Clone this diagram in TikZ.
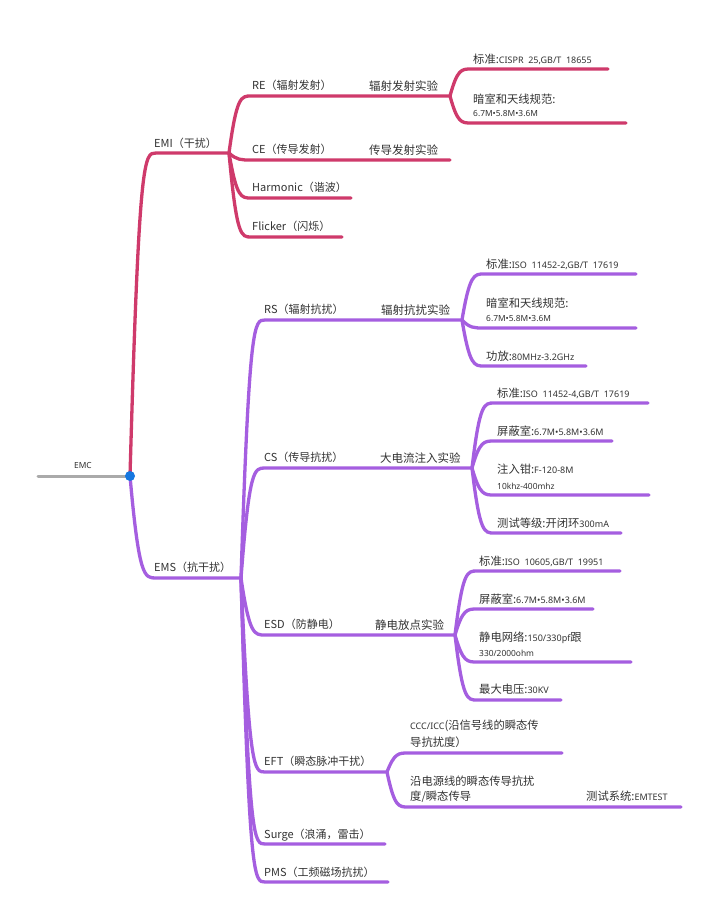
\documentclass[tikz,border=0pt]{standalone}
\usepackage{fontspec}
\setmainfont{Noto Sans CJK SC}
\newfontfamily\latf{Noto Sans}
\usetikzlibrary{calc}
\definecolor{emired}{HTML}{CF3A6B}
\definecolor{emspurple}{HTML}{A55EE0}
\definecolor{rootgray}{HTML}{AAAAAA}
\definecolor{dotblue}{HTML}{1677E0}
\definecolor{txt}{HTML}{333333}
\newcommand{\lsm}[1]{{\latf\fontsize{9}{10}\selectfont #1}}
\tikzset{
  emi/.style={draw=emired, line width=3.3pt, line cap=round},
  ems/.style={draw=emspurple, line width=3.3pt, line cap=round},
  br/.style={to path={let \p1=(\tikztostart), \p2=(\tikztotarget) in
     .. controls ({\x1+0.35*(\x2-\x1)},\y2) and ({\x1+0.55*(\x2-\x1)},\y2) .. (\tikztotarget)}},
  lab/.style={anchor=base west, inner sep=0pt, text=txt, font=\fontsize{11}{13}\selectfont},
  exp/.style={anchor=base west, inner sep=0pt, text=txt, font=\fontsize{11.5}{13}\selectfont},
  leaf/.style={anchor=base west, inner sep=0pt, text=txt, font=\fontsize{11.3}{13}\selectfont},
  small/.style={anchor=base west, inner sep=0pt, text=txt, font=\latf\fontsize{8.4}{10}\selectfont},
}
\begin{document}
\begin{tikzpicture}[x=1pt,y=-1pt]
\useasboundingbox[fill=white] (0,0) rectangle (720,922);
% ---------- coordinates ----------
\coordinate (emcL) at (38,476);
\coordinate (emc) at (130,476);
\coordinate (emiA) at (156,153);  \coordinate (emiH) at (229,153);
\coordinate (reA) at (251,96);    \coordinate (reH) at (450,96);
\coordinate (ceA) at (251,160);   \coordinate (ceE) at (450,160);
\coordinate (harA) at (251,198);  \coordinate (harE) at (351,198);
\coordinate (flA) at (251,237);   \coordinate (flE) at (342,237);
\coordinate (r1A) at (471,69);    \coordinate (r1E) at (608,69);
\coordinate (r2A) at (471,123);   \coordinate (r2E) at (626,123);
\coordinate (emsA) at (156,578);  \coordinate (emsH) at (241,578);
\coordinate (rsA) at (265,320);   \coordinate (rsH) at (462,320);
\coordinate (csA) at (265,468);   \coordinate (csH) at (472,468);
\coordinate (esdA) at (265,635);  \coordinate (esdH) at (455,635);
\coordinate (eftA) at (265,772);  \coordinate (eftH) at (387,772);
\coordinate (surA) at (265,844);  \coordinate (surE) at (385,844);
\coordinate (pmsA) at (265,882);  \coordinate (pmsE) at (388,882);
\coordinate (s1A) at (484,274);   \coordinate (s1E) at (636,274);
\coordinate (s2A) at (484,328);   \coordinate (s2E) at (636,328);
\coordinate (s3A) at (484,366);   \coordinate (s3E) at (586,366);
\coordinate (c1A) at (494,403);   \coordinate (c1E) at (648,403);
\coordinate (c2A) at (494,441);   \coordinate (c2E) at (612,441);
\coordinate (c3A) at (494,495);   \coordinate (c3E) at (649,495);
\coordinate (c4A) at (494,533);   \coordinate (c4E) at (621,533);
\coordinate (d1A) at (477,571);   \coordinate (d1E) at (620,571);
\coordinate (d2A) at (477,609);   \coordinate (d2E) at (593,609);
\coordinate (d3A) at (477,662);   \coordinate (d3E) at (631,662);
\coordinate (d4A) at (477,700);   \coordinate (d4E) at (561,700);
\coordinate (f1A) at (408,753);   \coordinate (f1E) at (562,753);
\coordinate (f2A) at (408,807);   \coordinate (f2E) at (681,807);
% ---------- connectors ----------
\draw[draw=rootgray, line width=3pt, line cap=round] (emcL) -- (emc);
% EMI
\draw[emi] (emc) to[br] (emiA) -- (emiH);
\draw[emi] (emiH) to[br] (reA) -- (reH);
\draw[emi] (emiH) to[br] (ceA) -- (ceE);
\draw[emi] (emiH) to[br] (harA) -- (harE);
\draw[emi] (emiH) to[br] (flA) -- (flE);
\draw[emi] (reH) to[br] (r1A) -- (r1E);
\draw[emi] (reH) to[br] (r2A) -- (r2E);
% EMS
\draw[ems] (emc) to[br] (emsA) -- (emsH);
\draw[ems] (emsH) to[br] (rsA) -- (rsH);
\draw[ems] (emsH) to[br] (csA) -- (csH);
\draw[ems] (emsH) to[br] (esdA) -- (esdH);
\draw[ems] (emsH) to[br] (eftA) -- (eftH);
\draw[ems] (emsH) to[br] (surA) -- (surE);
\draw[ems] (emsH) to[br] (pmsA) -- (pmsE);
\draw[ems] (rsH) to[br] (s1A) -- (s1E);
\draw[ems] (rsH) to[br] (s2A) -- (s2E);
\draw[ems] (rsH) to[br] (s3A) -- (s3E);
\draw[ems] (csH) to[br] (c1A) -- (c1E);
\draw[ems] (csH) to[br] (c2A) -- (c2E);
\draw[ems] (csH) to[br] (c3A) -- (c3E);
\draw[ems] (csH) to[br] (c4A) -- (c4E);
\draw[ems] (esdH) to[br] (d1A) -- (d1E);
\draw[ems] (esdH) to[br] (d2A) -- (d2E);
\draw[ems] (esdH) to[br] (d3A) -- (d3E);
\draw[ems] (esdH) to[br] (d4A) -- (d4E);
\draw[ems] (eftH) to[br] (f1A) -- (f1E);
\draw[ems] (eftH) to[br] (f2A) -- (f2E);
\fill[dotblue] (emc) circle (5pt);
% ---------- labels ----------
\node[small, anchor=base] (tEMC) at (83,468) {EMC};
\node[lab] (tEMI) at (154,147) {EMI（干扰）};
\node[lab] (tRE) at (252,89) {RE（辐射发射）};
\node[exp] (tREx) at (369,90) {辐射发射实验};
\node[lab] (tCE) at (252,153) {CE（传导发射）};
\node[exp] (tCEx) at (369,154) {传导发射实验};
\node[lab] (tHar) at (252,191) {Harmonic（谐波）};
\node[lab] (tFl) at (252,230) {Flicker（闪烁）};
\node[leaf] (tR1) at (473,63) {标准:\lsm{CISPR\ \ 25,GB/T\ \ 18655}};
\node[leaf] (tR2) at (473,103) {暗室和天线规范:};
\node[small] (tR2b) at (473,116) {6.7M•5.8M•3.6M};
\node[lab] (tEMS) at (154,571) {EMS（抗干扰）};
\node[lab] (tRS) at (264,313) {RS（辐射抗扰）};
\node[exp] (tRSx) at (381,314) {辐射抗扰实验};
\node[leaf] (tS1) at (486,268) {标准:\lsm{ISO\ \ 11452-2,GB/T\ \ 17619}};
\node[leaf] (tS2) at (486,307) {暗室和天线规范:};
\node[small] (tS2b) at (486,321) {6.7M•5.8M•3.6M};
\node[leaf] (tS3) at (486,360) {功放:\lsm{80MHz-3.2GHz}};
\node[lab] (tCS) at (264,461) {CS（传导抗扰）};
\node[exp] (tCSx) at (380,462) {大电流注入实验};
\node[leaf] (tC1) at (497,397) {标准:\lsm{ISO\ \ 11452-4,GB/T\ \ 17619}};
\node[leaf] (tC2) at (497,435) {屏蔽室:\lsm{6.7M•5.8M•3.6M}};
\node[leaf] (tC3) at (497,473) {注入钳:\lsm{F-120-8M}};
\node[small] (tC3b) at (497,489) {10khz-400mhz};
\node[leaf] (tC4) at (497,527) {测试等级:开闭环\lsm{300mA}};
\node[lab] (tESD) at (264,628) {ESD（防静电）};
\node[exp] (tESDx) at (375,629) {静电放点实验};
\node[leaf] (tD1) at (479,565) {标准:\lsm{ISO\ \ 10605,GB/T\ \ 19951}};
\node[leaf] (tD2) at (479,603) {屏蔽室:\lsm{6.7M•5.8M•3.6M}};
\node[leaf] (tD3) at (479,641) {静电网络:\lsm{150/330pf}跟};
\node[small] (tD3b) at (479,656) {330/2000ohm};
\node[leaf] (tD4) at (479,693) {最大电压:\lsm{30KV}};
\node[lab] (tEFT) at (264,765) {EFT（瞬态脉冲干扰）};
\node[leaf] (tF1) at (410,729) {\lsm{CCC/ICC}(沿信号线的瞬态传};
\node[leaf] (tF1b) at (410,746) {导抗扰度）};
\node[leaf] (tF2) at (410,785) {沿电源线的瞬态传导抗扰};
\node[leaf] (tF2b) at (410,800) {度/瞬态传导};
\node[leaf] (tF2c) at (586,800) {测试系统:\lsm{EMTEST}};
\node[lab] (tSur) at (264,838) {Surge（浪涌，雷击）};
\node[lab] (tPMS) at (264,876) {PMS（工频磁场抗扰）};
\end{tikzpicture}
\end{document}
